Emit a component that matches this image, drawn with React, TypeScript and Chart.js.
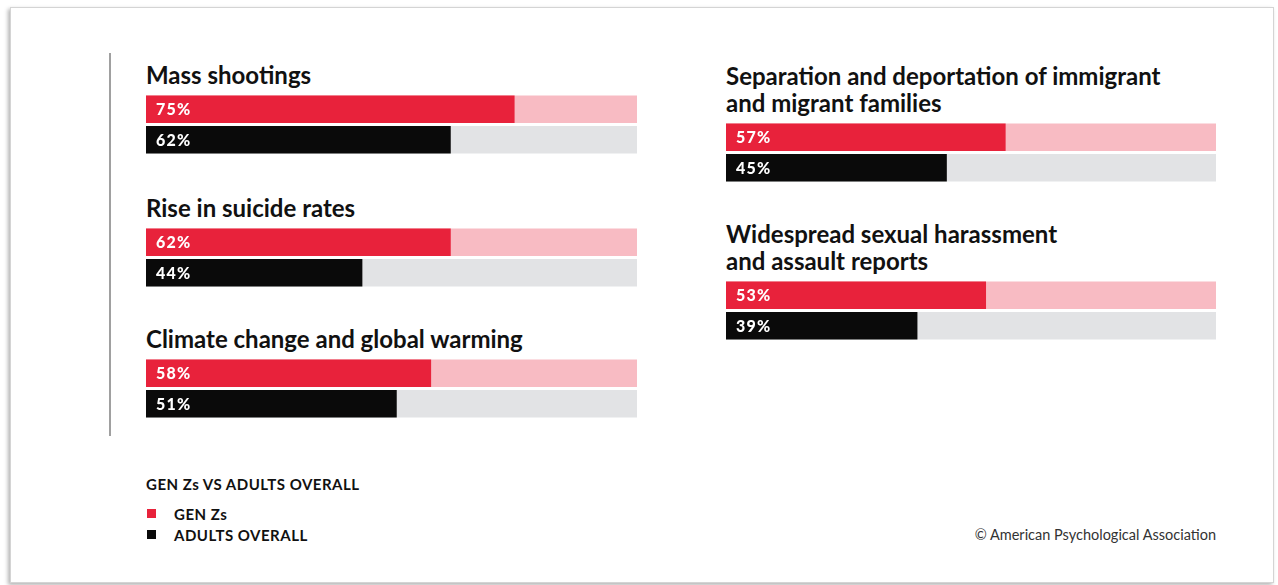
import React, { useEffect, useRef } from "react";
import { Chart, registerables } from "chart.js";

Chart.register(...registerables);

// ---- Data ----
const TOPICS = [
  "Mass shootings",
  "Rise in suicide rates",
  "Climate change and global warming",
  "Separation and deportation of immigrant\nand migrant families",
  "Widespread sexual harassment\nand assault reports",
];
const GEN_Z = [75, 62, 58, 57, 53];
const ADULTS = [62, 44, 51, 45, 39];
const SERIES = ["GEN Zs", "ADULTS OVERALL"];
const SCALE_MAX = 100;
const LEGEND_TITLE = "GEN Zs VS ADULTS OVERALL";
const CREDIT = "© American Psychological Association";

// ---- Styles / layout ----
const RED = "#e8223b";
const PINK = "#f8bbc3";
const BLACK = "#0a0a0a";
const GRAY = "#e2e3e5";
const FONT = "Lato, 'Open Sans', sans-serif";

const PANELS = [
  { left: 146, top: 94, width: 491 },
  { left: 146, top: 227, width: 491 },
  { left: 146, top: 358, width: 491 },
  { left: 726, top: 122, width: 490 },
  { left: 726, top: 280, width: 490 },
];
const CANVAS_H = 61;

const valueLabels = {
  id: "valueLabels",
  afterDatasetsDraw(chart: any) {
    const ctx = chart.ctx;
    const meta = chart.getDatasetMeta(1);
    const data = chart.data.datasets[1].data;
    ctx.save();
    ctx.font = `900 16px ${FONT}`;
    ctx.fillStyle = "#ffffff";
    ctx.textBaseline = "middle";
    ctx.textAlign = "left";
    try {
      (ctx as any).letterSpacing = "1.2px";
    } catch (e) {}
    meta.data.forEach((bar: any, i: number) => {
      ctx.fillText(`${data[i]}%`, bar.base + 10, bar.y + 1);
    });
    ctx.restore();
  },
};

function BarBlock({ idx }: { idx: number }) {
  const ref = useRef<HTMLCanvasElement | null>(null);
  const p = PANELS[idx];
  useEffect(() => {
    if (!ref.current) return;
    const chart = new Chart(ref.current, {
      type: "bar",
      data: {
        labels: SERIES,
        datasets: [
          {
            label: "track",
            data: [SCALE_MAX, SCALE_MAX],
            backgroundColor: [PINK, GRAY],
            grouped: false,
            order: 2,
            barThickness: 27,
          } as any,
          {
            label: TOPICS[idx],
            data: [GEN_Z[idx], ADULTS[idx]],
            backgroundColor: [RED, BLACK],
            grouped: false,
            order: 1,
            barThickness: 27,
          } as any,
        ],
      },
      options: {
        indexAxis: "y",
        animation: false,
        responsive: false,
        maintainAspectRatio: false,
        layout: { padding: 0 },
        plugins: { legend: { display: false }, tooltip: { enabled: false } },
        scales: {
          x: { min: 0, max: SCALE_MAX, display: false },
          y: { display: false },
        },
      },
      plugins: [valueLabels],
    });
    return () => chart.destroy();
  }, [idx]);
  const lines = TOPICS[idx].split("\n").length;
  return (
    <>
      <div
        style={{
          position: "absolute",
          left: p.left,
          top: p.top - 6.5 - 27 * lines,
          font: `bold 24px ${FONT}`,
          lineHeight: "27px",
          color: "#111",
          whiteSpace: "pre",
        }}
      >
        {TOPICS[idx]}
      </div>
      <canvas
        ref={ref}
        width={p.width}
        height={CANVAS_H}
        style={{ position: "absolute", left: p.left, top: p.top, width: p.width, height: CANVAS_H }}
      />
    </>
  );
}

export default function App() {
  return (
    <div
      style={{
        position: "absolute",
        left: 0,
        top: 0,
        width: 1278,
        height: 585,
        background: "#fff",
        overflow: "hidden",
        fontFamily: FONT,
      }}
    >
      <div
        style={{
          position: "absolute",
          left: 10,
          top: 7,
          width: 1262,
          height: 574,
          border: "1px solid #d4d4d4",
          boxShadow: "-2px 2px 4px rgba(0,0,0,0.3)",
          background: "#fff",
        }}
      />
      <div
        style={{ position: "absolute", left: 109, top: 53, width: 2, height: 383, background: "#a0a0a0" }}
      />
      {TOPICS.map((_, i) => (
        <BarBlock key={i} idx={i} />
      ))}
      <div
        style={{
          position: "absolute",
          left: 146,
          top: 475,
          font: `bold 15px ${FONT}`,
          letterSpacing: "0.5px",
          color: "#111",
          lineHeight: "18px",
          whiteSpace: "nowrap",
        }}
      >
        {LEGEND_TITLE}
      </div>
      {SERIES.map((s, i) => (
        <React.Fragment key={s}>
          <div
            style={{
              position: "absolute",
              left: 147,
              top: 509 + 21 * i,
              width: 8.5,
              height: 8.5,
              background: i === 0 ? RED : BLACK,
            }}
          />
          <div
            style={{
              position: "absolute",
              left: 174,
              top: 505 + 21 * i,
              font: `bold 15px ${FONT}`,
              letterSpacing: "0.5px",
              color: "#111",
              lineHeight: "18px",
              whiteSpace: "nowrap",
            }}
          >
            {s}
          </div>
        </React.Fragment>
      ))}
      <div
        style={{
          position: "absolute",
          right: 1278 - 1216,
          top: 526,
          font: `14.5px ${FONT}`,
          color: "#333",
          lineHeight: "18px",
          whiteSpace: "nowrap",
        }}
      >
        {CREDIT}
      </div>
    </div>
  );
}
